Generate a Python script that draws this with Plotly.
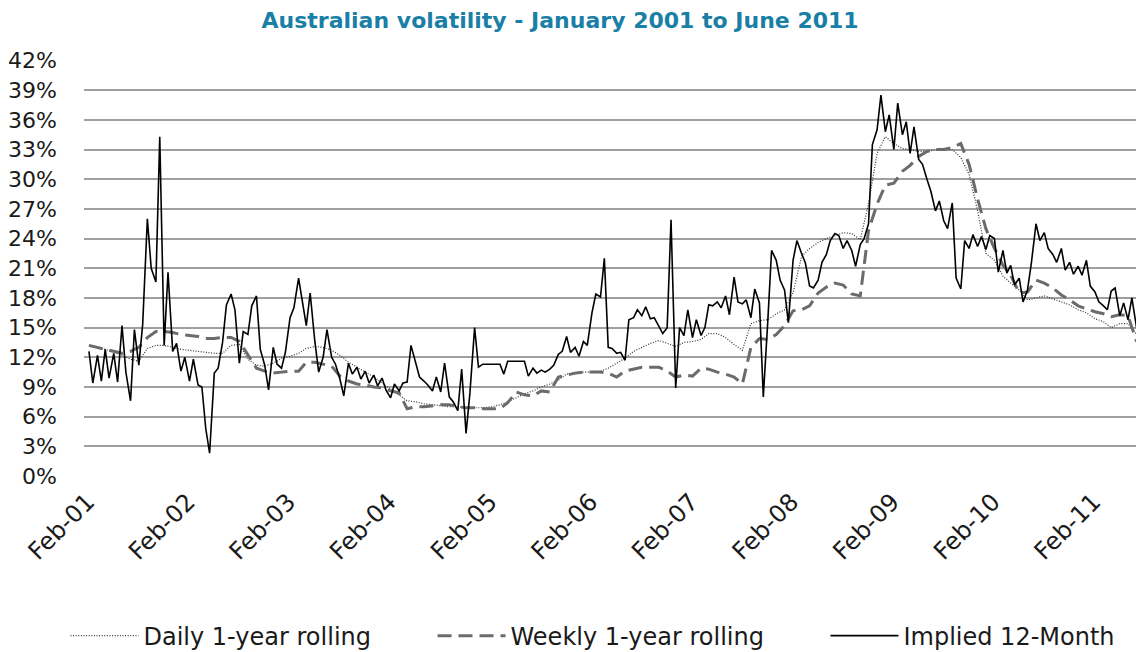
import pandas as pd
import plotly.graph_objects as go

# ---------------- data (values in %) ----------------
# Implied 12-Month volatility, semi-monthly observations from Jan 2001 to Jun 2011
implied_values = [
    # 2001
    12.6, 9.4, 12.2, 9.6, 12.8, 9.9, 12.4, 9.5, 15.2, 10.5, 7.6, 14.8,
    11.2, 15.3, 26.0, 21.0, 19.6, 34.3, 13.2, 20.6, 12.6, 13.4, 10.6, 12.0,
    # 2002
    9.6, 11.8, 9.2, 9.0, 4.8, 2.3, 10.4, 10.9, 13.5, 17.3, 18.4, 16.8,
    11.4, 14.6, 14.3, 17.2, 18.2, 12.8, 11.2, 8.7, 13.0, 11.3, 10.9, 12.5,
    # 2003
    16.0, 17.0, 20.0, 17.5, 15.2, 18.5, 13.6, 10.5, 12.0, 14.8, 12.0, 11.3,
    9.8, 8.1, 11.4, 10.3, 11.0, 9.8, 10.6, 9.4, 10.2, 9.1, 9.9, 8.7,
    # 2004
    7.9, 9.3, 8.6, 9.4, 9.5, 13.2, 11.5, 10.0, 9.6, 9.2, 8.6, 10.0,
    8.5, 11.4, 8.0, 7.5, 6.6, 10.8, 4.3, 8.4, 15.0, 11.0, 11.3, 11.3,
    # 2005
    11.3, 11.3, 11.3, 10.3, 11.6, 11.6, 11.6, 11.6, 11.6, 10.1, 10.9, 10.4,
    10.7, 10.5, 10.8, 11.2, 12.3, 12.6, 14.1, 12.5, 13.0, 12.1, 13.6, 13.2,
    # 2006
    16.5, 18.4, 18.1, 22.0, 13.0, 12.9, 12.4, 12.5, 11.7, 15.8, 16.0, 16.8,
    16.2, 17.1, 15.9, 16.0, 15.2, 14.4, 15.0, 25.9, 8.9, 15.0, 14.2, 16.8,
    # 2007
    14.0, 15.8, 14.2, 15.0, 17.3, 17.2, 17.6, 17.0, 18.2, 16.3, 20.1, 17.6,
    17.4, 17.8, 16.0, 18.9, 17.5, 8.0, 15.5, 22.8, 21.8, 19.8, 18.8, 15.5,
    # 2008
    21.8, 23.8, 22.5, 21.5, 19.2, 19.0, 19.8, 21.6, 22.4, 23.8, 24.5, 24.3,
    23.0, 23.8, 22.8, 21.2, 23.4, 24.0, 25.5, 33.5, 35.0, 38.5, 34.8, 36.5,
    # 2009
    33.0, 37.7, 34.5, 35.8, 32.6, 35.3, 32.0, 31.5, 30.0, 28.8, 26.8, 27.8,
    25.8, 25.0, 27.6, 20.0, 18.9, 23.8, 23.0, 24.4, 23.2, 24.2, 22.9, 24.3,
    # 2010
    24.0, 20.6, 22.8, 20.5, 21.3, 19.3, 20.0, 17.6, 18.8, 21.5, 25.5, 23.8,
    24.6, 23.0, 22.4, 21.6, 23.0, 20.8, 21.6, 20.4, 21.2, 20.3, 21.8, 19.2,
    # 2011
    18.6, 17.6, 17.2, 16.8, 18.7, 19.0, 16.2, 17.5, 15.8, 18.0, 15.0, 18.0,
]

# Daily 1-year rolling volatility, monthly readings Jan 2001 - Jun 2011
daily_values = [
    13.1, 13.0, 12.8, 12.5, 12.2, 11.8, 11.6, 12.9, 13.2, 13.2, 13.0, 12.8,
    12.7, 12.6, 12.5, 12.4, 12.4, 13.2, 13.3, 11.8, 11.2, 11.1, 11.4, 11.9,
    12.1, 12.4, 12.9, 13.1, 13.0, 12.7, 12.2, 11.5, 11.0, 10.5, 10.0, 9.4,
    8.8, 8.2, 7.6, 7.5, 7.3, 7.2, 7.1, 7.0, 7.0, 6.9, 6.9, 6.9,
    7.0, 7.2, 7.5, 7.9, 8.3, 8.6, 9.0, 9.3, 9.7, 10.3, 10.4, 10.5,
    10.5, 10.6, 10.9, 11.4, 11.9, 12.6, 13.0, 13.4, 13.7, 13.4, 13.1, 13.5,
    13.6, 13.8, 14.4, 14.4, 14.0, 13.3, 12.7, 15.4, 15.7, 15.8, 16.4, 16.8,
    18.5, 22.2, 23.0, 23.6, 24.0, 24.3, 24.6, 24.5, 23.9, 27.5, 32.6, 34.3,
    33.6, 33.1, 33.0, 32.8, 32.8, 33.0, 33.0, 33.0, 32.2, 30.5, 26.8, 22.5,
    21.8, 20.2, 19.5, 18.8, 17.8, 18.0, 18.2, 17.9, 17.6, 17.3, 16.8, 16.5,
    15.9, 15.6, 15.0, 15.4, 15.4, 14.3,
]

# Weekly 1-year rolling volatility, monthly readings Jan 2001 - Jun 2011
weekly_values = [
    13.2, 13.0, 12.8, 12.6, 12.4, 12.6, 13.0, 14.0, 14.6, 14.6, 14.5, 14.3,
    14.2, 14.1, 13.9, 13.9, 14.0, 14.0, 13.6, 12.3, 10.9, 10.6, 10.4, 10.5,
    10.6, 10.6, 11.5, 11.5, 11.3, 11.1, 10.1, 9.6, 9.3, 9.2, 9.0, 8.9,
    8.6, 8.4, 6.8, 7.0, 7.0, 7.1, 7.2, 7.2, 7.0, 6.9, 6.9, 6.8,
    6.8, 6.8, 7.4, 8.5, 8.2, 8.1, 8.6, 8.5, 10.0, 10.2, 10.4, 10.5,
    10.5, 10.5, 10.4, 10.0, 10.6, 10.8, 11.0, 11.0, 11.0, 10.6, 10.0, 10.2,
    10.1, 10.9, 10.8, 10.5, 10.3, 10.0, 9.3, 13.0, 13.9, 13.8, 14.3, 15.2,
    16.7, 16.8, 17.2, 18.5, 19.1, 19.5, 19.3, 18.4, 18.2, 24.8, 27.5, 29.4,
    29.6, 30.8, 31.4, 32.3, 32.8, 33.0, 33.0, 33.2, 33.6, 31.5, 28.0, 25.0,
    23.0, 21.3, 20.3, 18.5, 18.6, 19.8, 19.5, 19.0, 18.3, 17.8, 17.2, 16.9,
    16.6, 16.4, 16.1, 16.3, 16.2, 13.6,
]

tick_dates = ["2001-02-01", "2002-02-01", "2003-02-01", "2004-02-01", "2005-02-01",
              "2006-02-01", "2007-02-01", "2008-02-01", "2009-02-01", "2010-02-01",
              "2011-02-01"]
tick_labels = ["Feb-01", "Feb-02", "Feb-03", "Feb-04", "Feb-05", "Feb-06",
               "Feb-07", "Feb-08", "Feb-09", "Feb-10", "Feb-11"]

implied_dates = pd.date_range("2001-01-01", periods=len(implied_values), freq="SMS")
monthly_dates = pd.date_range("2001-01-01", periods=len(daily_values), freq="MS")

FONT = "DejaVu Sans"
TEXT = "#1a1a1a"

fig = go.Figure()
fig.add_trace(go.Scatter(
    x=monthly_dates, y=daily_values, name="Daily 1-year rolling", mode="lines",
    line=dict(color="#333333", width=1.2, dash="1px,1.6px"), legend="legend"))
fig.add_trace(go.Scatter(
    x=monthly_dates, y=weekly_values, name="Weekly 1-year rolling", mode="lines",
    line=dict(color="#6b6b6b", width=3, dash="14px,7px"), legend="legend2"))
fig.add_trace(go.Scatter(
    x=implied_dates, y=implied_values, name="Implied 12-Month", mode="lines",
    line=dict(color="#000000", width=1.6), legend="legend3"))

# the page adds an 8px body margin, so the figure is 8px smaller than the window
W, H = 1136, 644

legend_common = dict(orientation="h", xref="container", yref="container",
                     xanchor="left", y=0.0248, yanchor="middle",
                     font=dict(family=FONT, size=24, color=TEXT),
                     itemwidth=68, bgcolor="rgba(0,0,0,0)")

fig.update_layout(
    width=W, height=H,
    margin=dict(l=76, r=0, t=52, b=176),
    paper_bgcolor="white", plot_bgcolor="white",
    title=dict(text="<b>Australian volatility - January 2001 to June 2011</b>",
               font=dict(family="DejaVu Sans", size=22, color="#1a7fa6"),
               x=0.486, xanchor="center", y=0.981, yanchor="middle"),
    font=dict(family=FONT, size=22, color=TEXT),
    showlegend=True,
    legend=dict(x=0.0506, **legend_common),
    legend2=dict(x=0.3737, **legend_common),
    legend3=dict(x=0.7196, **legend_common),
)
fig.update_xaxes(
    type="date", range=["2000-12-14", "2011-06-28"],
    tickmode="array", tickvals=tick_dates, ticktext=tick_labels,
    tickangle=-45, ticks="", showgrid=False, zeroline=False, showline=False,
    tickfont=dict(family=FONT, size=24, color=TEXT), automargin=False,
    ticklabelshift=-10, ticklabelstandoff=6,
)
fig.update_yaxes(
    range=[0, 42.05], dtick=3, tick0=0, ticksuffix="%",
    showgrid=True, gridcolor="#9f9f9f", gridwidth=2,
    zeroline=False, showline=False, ticks="",
    tickfont=dict(family=FONT, size=22, color=TEXT), automargin=False,
    ticklabelstandoff=26,
)

fig.write_html("out.html")
